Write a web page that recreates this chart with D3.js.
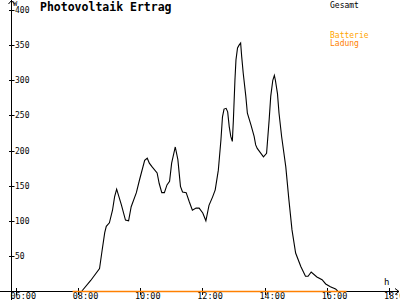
<!DOCTYPE html>
<html>
<head>
<meta charset="utf-8">
<script src="https://cdn.jsdelivr.net/npm/d3@7"></script>
<style>
  body { margin: 0; background: #fff; }
  text { font-family: "DejaVu Sans Mono", monospace; }
</style>
</head>
<body>
<div id="canvas"></div>
<script>
// Gesamt (W) over the day
let times = ["08:08","08:25","08:42","08:47","08:52","08:55","09:01","09:07","09:11","09:15",
  "09:24","09:32","09:38","09:43","09:53","09:59","10:09","10:14","10:18","10:23",
  "10:33","10:37","10:42","10:47","10:52","10:57","11:01","11:08","11:13","11:18",
  "11:22","11:29","11:35","11:41","11:48","11:54","12:01","12:07","12:13","12:20",
  "12:25","12:31","12:36","12:39","12:42","12:46","12:49","12:52","12:55","12:58",
  "13:00","13:03","13:05","13:08","13:11","13:14","13:16","13:19","13:24","13:27",
  "13:34","13:40","13:43","13:46","13:58","14:04","14:09","14:12","14:16","14:19",
  "14:21","14:25","14:28","14:33","14:41","14:47","14:53","15:00","15:10","15:19",
  "15:24","15:30","15:41","15:51","15:58","16:07","16:17","16:21"]
let gesamt = [0,15,32,58,83,92,97,115,134,145,
  123,101,100,120,140,158,186,189,182,177,
  168,153,140,140,151,156,182,205,187,149,
  141,140,127,115,118,118,111,100,122,134,
  144,172,215,248,259,260,255,234,220,213,
  243,300,329,346,350,353,334,310,277,253,
  236,220,208,203,191,196,244,277,300,307,
  300,281,253,220,177,130,87,54,35,21,
  21,27,20,16,10,6,3,0]

// Batterie Ladung
let ladungTimes = ["07:50","16:38"]
let ladung = [0,0]

let yTicks = [50,100,150,200,250,300,350,400]
let xTicks = ["06:00","08:00","10:00","12:00","14:00","16:00","18:00"]

let svg = {}

window.onload = function(){ setup() }

function toHours(t){
  let p = t.split(":")
  return +p[0] + p[1] / 60
}

function setup(){
  svg = d3.select("#canvas")
    .append("svg")
    .attr("width", 400)
    .attr("height", 300)

  let x = d3.scaleLinear().domain([6, 18]).range([15.5, 389])
  let y = d3.scaleLinear().domain([0, 400]).range([291, 10])

  // axes lines
  svg.append("line")
    .attr("x1", 0).attr("x2", 399).attr("y1", 291.5).attr("y2", 291.5)
    .attr("stroke", "#000")
  svg.append("line")
    .attr("x1", 11.5).attr("x2", 11.5).attr("y1", 0).attr("y2", 300)
    .attr("stroke", "#000")

  // arrow heads
  svg.append("path")
    .attr("d", "M8.5,4 L11.5,0.5 L14.5,4")
    .attr("fill", "none").attr("stroke", "#000")
  svg.append("path")
    .attr("d", "M395,288.5 L399,291.5 L395,294.5")
    .attr("fill", "none").attr("stroke", "#000")

  // y ticks
  let yg = svg.append("g")
  yg.selectAll("line")
    .data(yTicks)
    .join("line")
    .attr("x1", 9).attr("x2", 14.5)
    .attr("y1", d => Math.round(y(d)) + 0.5)
    .attr("y2", d => Math.round(y(d)) + 0.5)
    .attr("stroke", "#000")
  yg.selectAll("text")
    .data(yTicks)
    .join("text")
    .attr("x", 15)
    .attr("y", d => y(d) + 3)
    .attr("font-size", "8px")
    .attr("fill", "#000")
    .text(d => d)

  // x ticks
  let xg = svg.append("g")
  xg.selectAll("line")
    .data(xTicks)
    .join("line")
    .attr("x1", d => Math.round(x(toHours(d))) + 0.5)
    .attr("x2", d => Math.round(x(toHours(d))) + 0.5)
    .attr("y1", 288).attr("y2", 295)
    .attr("stroke", "#000")
  xg.selectAll("text")
    .data(xTicks)
    .join("text")
    .attr("x", d => x(toHours(d)) - 5)
    .attr("y", 299)
    .attr("font-size", "8.5px")
    .attr("fill", "#000")
    .text(d => d)

  // unit labels
  svg.append("text").attr("x", 13).attr("y", 6)
    .attr("font-size", "7px").text("W")
  svg.append("text").attr("x", 384).attr("y", 285)
    .attr("font-size", "9px").text("h")

  // gesamt line
  let pts = times.map((t, i) => [toHours(t), gesamt[i]])
  let line = d3.line().x(d => x(d[0])).y(d => y(d[1]))
  svg.append("path")
    .datum(pts)
    .attr("d", line)
    .attr("fill", "none")
    .attr("stroke", "#000")
    .attr("stroke-width", 1.1)

  // ladung line
  let lpts = ladungTimes.map((t, i) => [toHours(t), ladung[i]])
  svg.append("path")
    .datum(lpts)
    .attr("d", d3.line().x(d => x(d[0])).y(d => Math.round(y(d[1])) + 0.5))
    .attr("fill", "none")
    .attr("stroke", "#ff8000")
    .attr("stroke-width", 1.5)

  // title and legend
  svg.append("text").attr("x", 40).attr("y", 11)
    .attr("font-size", "11.5px").attr("font-weight", "bold")
    .text("Photovoltaik Ertrag")
  svg.append("text").attr("x", 330).attr("y", 7.5)
    .attr("font-size", "8px").text("Gesamt")
  svg.append("text").attr("x", 330).attr("y", 38)
    .attr("font-size", "8px").attr("fill", "#ffa500").text("Batterie")
  svg.append("text").attr("x", 330).attr("y", 46)
    .attr("font-size", "8px").attr("fill", "#ff8000").text("Ladung")
}
</script>
</body>
</html>
